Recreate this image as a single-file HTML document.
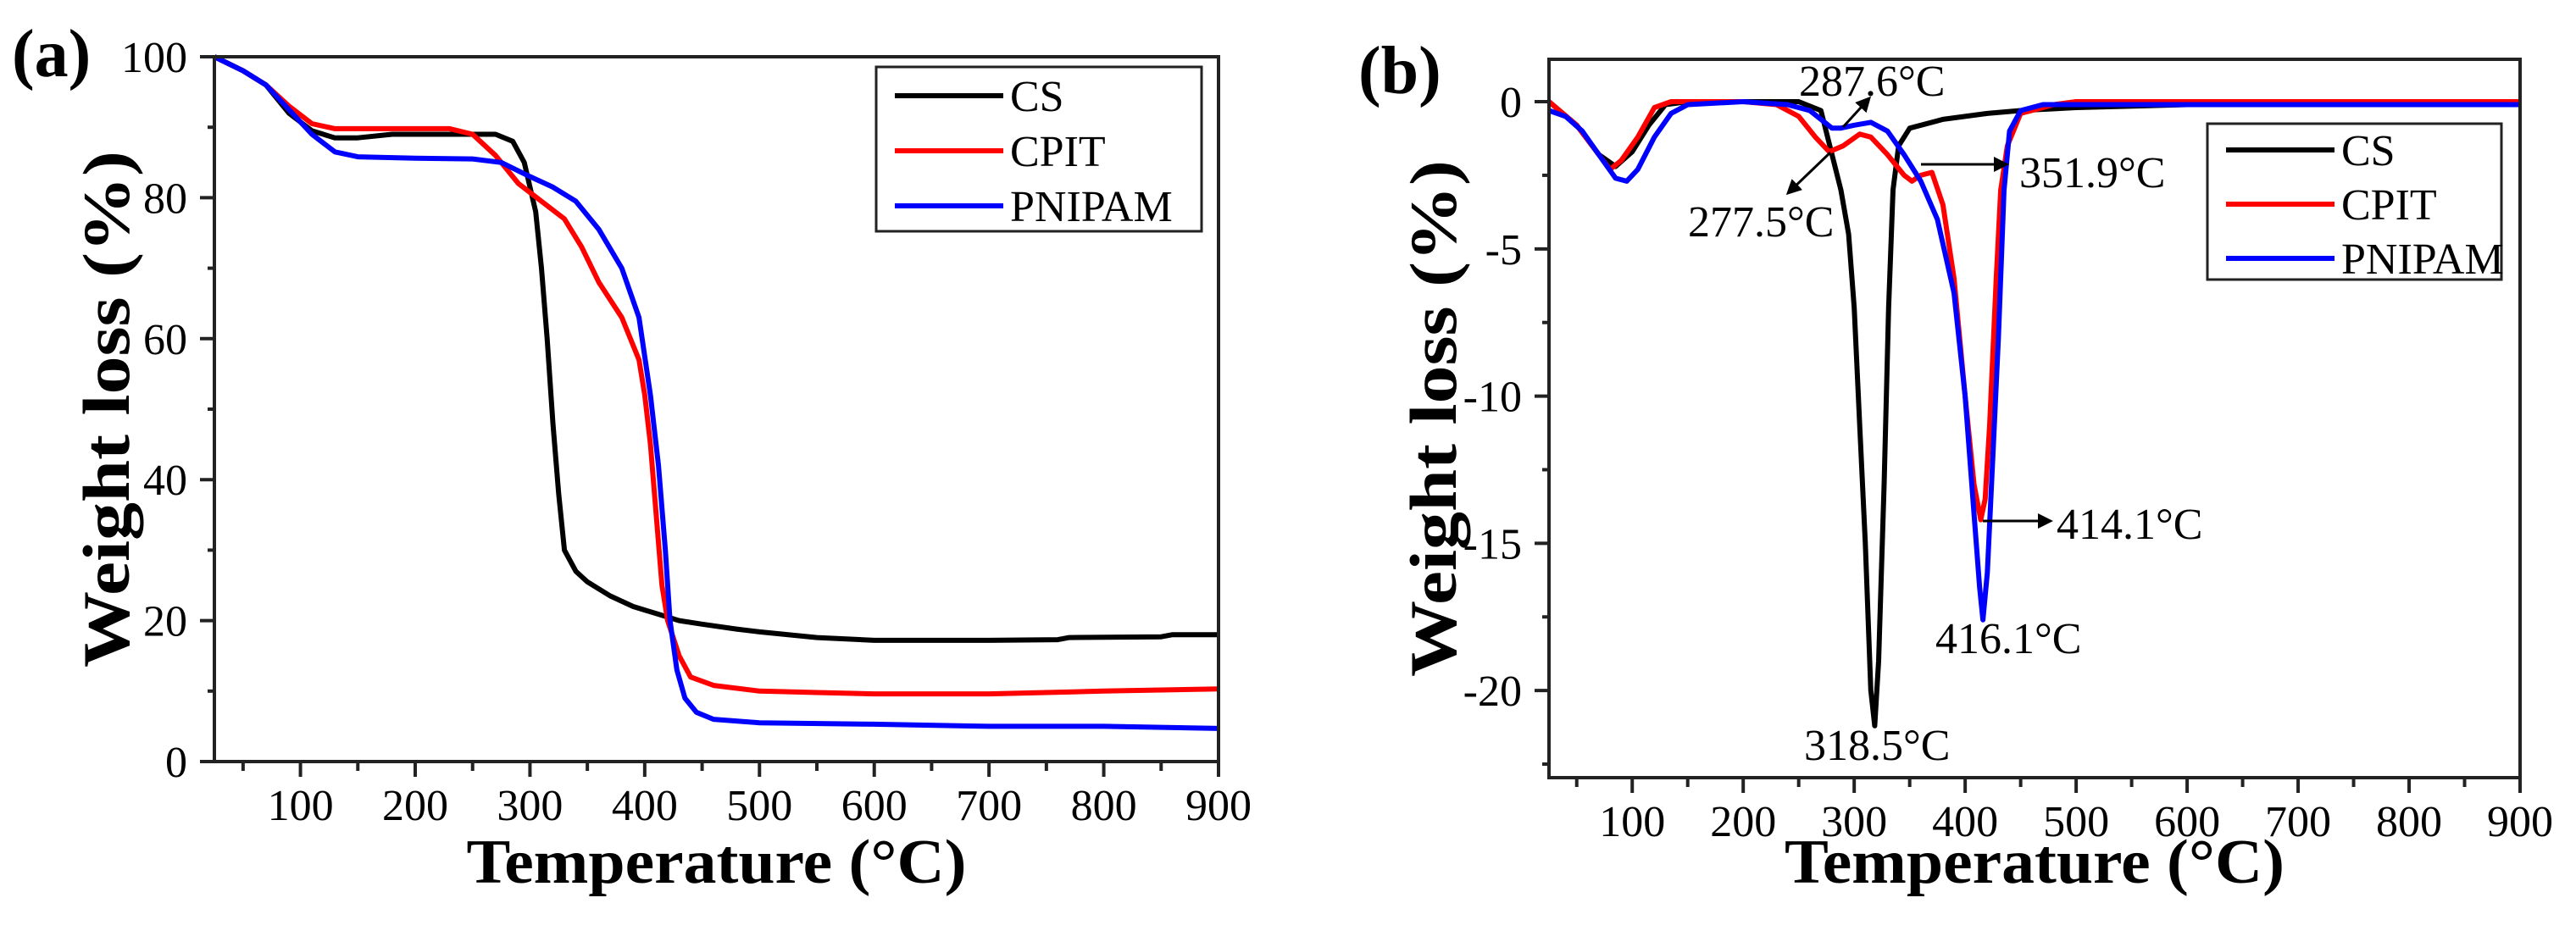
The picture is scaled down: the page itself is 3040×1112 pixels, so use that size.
<!DOCTYPE html>
<html><head><meta charset="utf-8">
<style>
html,body{margin:0;padding:0;background:#fff;}
svg{display:block;font-family:"Liberation Serif",serif;}
</style></head>
<body>
<svg id="fig" width="3040" height="1112" viewBox="0 0 3040 1112" xmlns="http://www.w3.org/2000/svg"></svg>
<script>
// ---------- Panel (a) TGA data ----------
const tgaCsT = [25,50,70,90,110,130,150,180,200,250,270,285,295,305,310,315,320,325,330,340,350,370,390,410,430,450,480,500,550,600,700,760,770,850,860,900];
const tgaCsV = [100,98,96,92,89.5,88.5,88.5,89,89,89,89,88,85,78,70,60,48,38,30,27,25.5,23.5,22,21,20,19.5,18.8,18.4,17.6,17.2,17.2,17.3,17.6,17.7,18,18];
const tgaCpitT = [25,50,70,90,110,130,200,230,250,270,290,310,330,345,360,380,395,400,405,410,415,420,430,440,460,500,550,600,700,800,900];
const tgaCpitV = [100,98,96,93,90.5,89.8,89.8,89.8,89,86,82,79.5,77,73,68,63,57,52,45,35,25,20,15,12,10.8,10,9.8,9.6,9.6,10,10.3];
const tgaPnT = [25,50,70,90,110,130,150,200,250,275,300,320,340,360,380,395,405,412,418,422,428,435,445,460,500,600,700,800,900];
const tgaPnV = [100,98,96,92.5,89,86.5,85.8,85.6,85.5,85,83,81.5,79.5,75.5,70,63,52,42,30,20,13,9,7,6,5.5,5.3,5,5,4.7];
const tgaYTicks = [0,20,40,60,80,100];
const xTicks = [100,200,300,400,500,600,700,800,900];

// ---------- Panel (b) DTG data ----------
const dtgCsT = [25,50,70,85,100,115,130,150,200,250,270,278,288,295,300,305,310,315,318.5,322,327,331,335,340,350,380,420,450,500,600,900];
const dtgCsV = [0,-0.8,-1.8,-2.2,-1.7,-0.8,-0.1,0,0,0,-0.3,-1.5,-3,-4.5,-7,-11,-15,-20,-21.2,-19,-13,-7,-3,-1.5,-0.9,-0.6,-0.4,-0.3,-0.2,-0.1,-0.1];
const dtgCpitT = [25,50,70,80,90,105,120,135,200,230,250,265,277.5,290,305,315,330,345,352,360,370,380,390,400,408,414,418,422,428,432,438,450,480,500,900];
const dtgCpitV = [0,-0.8,-1.8,-2.3,-2,-1.2,-0.2,0,0,-0.1,-0.5,-1.2,-1.7,-1.5,-1.1,-1.2,-1.8,-2.5,-2.7,-2.5,-2.4,-3.5,-6,-10,-13,-14.2,-13.5,-11,-6,-3,-1.5,-0.4,-0.1,0,0];
const dtgPnT = [25,40,55,70,85,95,105,120,135,150,200,240,260,280,287.6,300,315,330,345,360,375,390,400,408,413,416,420,425,430,435,440,450,470,900];
const dtgPnV = [-0.3,-0.5,-1,-1.8,-2.6,-2.7,-2.3,-1.2,-0.4,-0.1,0,-0.1,-0.3,-0.9,-0.9,-0.8,-0.7,-1,-1.8,-2.7,-4,-6.5,-10,-14,-16.5,-17.6,-16,-12,-8,-3,-1,-0.3,-0.1,-0.1];
const dtgYTicks = [0,-5,-10,-15,-20];
const dtgLabels = ["287.6°C","277.5°C","351.9°C","414.1°C","416.1°C","318.5°C"];

const NS = "http://www.w3.org/2000/svg";
const svg = document.getElementById('fig');
function el(tag, attrs, parent){
  const e = document.createElementNS(NS, tag);
  for (const k in attrs) e.setAttribute(k, attrs[k]);
  (parent||svg).appendChild(e);
  return e;
}
function txt(s, x, y, size, opts, parent){
  const t = el('text', Object.assign({x:x, y:y, 'font-size':size, fill:'#000'}, opts||{}), parent);
  t.textContent = s;
  return t;
}

function makePanel(cfg){
  const g = el('g', {});
  
  
  const sx = v => cfg.x0 + (v - cfg.xmin) / (cfg.xmax - cfg.xmin) * (cfg.x1 - cfg.x0);
  const sy = v => cfg.y1 - (v - cfg.ymin) / (cfg.ymax - cfg.ymin) * (cfg.y1 - cfg.y0);
  cfg.series.forEach(s => {
    const d = s.t.map((t,i) => (i?'L':'M') + sx(t).toFixed(1) + ' ' + sy(s.v[i]).toFixed(1)).join(' ');
    const p = el('path', {d:d, fill:'none', stroke:s.color, 'stroke-width':6, 'stroke-linejoin':'round'}, g);
    
    
  });
  const fr = el('rect', {x:cfg.x0, y:cfg.y0, width:cfg.x1-cfg.x0, height:cfg.y1-cfg.y0, fill:'none', stroke:'#222', 'stroke-width':4}, g);
  
  
  for (let v = 50; v <= 900; v += 50){
    const major = v % 100 === 0;
    el('line', {x1:sx(v), x2:sx(v), y1:cfg.y1, y2:cfg.y1 + (major?18:11), stroke:'#222', 'stroke-width':4}, g);
  }
  xTicks.forEach(v => {
    const t = txt(String(v), sx(v), cfg.y1 + 69, 52, {'text-anchor':'middle'}, g);
    
    
  });
  const start = Math.ceil(cfg.ymin / cfg.minor) * cfg.minor;
  for (let v = start; v <= cfg.ymax + 1e-9; v += cfg.minor){
    const major = cfg.yTicks.some(m => Math.abs(m - v) < 1e-6);
    el('line', {x1:cfg.x0 - (major?17:8), x2:cfg.x0, y1:sy(v), y2:sy(v), stroke:'#222', 'stroke-width':4}, g);
  }
  cfg.yTicks.forEach(v => {
    const t = txt(String(v), cfg.x0 - 32, sy(v) + 18, 52, {'text-anchor':'end'}, g);
    
    
  });
  const xt = txt('Temperature (°C)', (cfg.x0+cfg.x1)/2, 1042, 74, {'text-anchor':'middle','font-weight':'bold', textLength:590, lengthAdjust:'spacingAndGlyphs'}, g);
  
  
  const ycx = cfg.ytitleX, ycy = (cfg.y0+cfg.y1)/2;
  const yt = txt('Weight loss (%)', ycx, ycy, 78, {'text-anchor':'middle','font-weight':'bold', textLength:610, lengthAdjust:'spacingAndGlyphs', transform:'rotate(-90 '+ycx+' '+ycy+')'}, g);
  
  
  const pl = txt(cfg.label, cfg.labelX, cfg.labelY, 80, {'font-weight':'bold'}, g);
  
  
  const L = cfg.legend;
  const lg = el('g', {}, g);
  
  
  el('rect', {x:L.x, y:L.y, width:L.w, height:L.h, fill:'#fff', stroke:'#222', 'stroke-width':3}, lg);
  cfg.series.forEach((s,i) => {
    const yy = L.y + L.first + i * L.step;
    const ln = el('line', {x1:L.x+22, x2:L.x+150, y1:yy, y2:yy, stroke:s.color, 'stroke-width':6}, lg);
    
    
    const t = txt(s.label, L.x+158, yy + 18, 52, {}, lg);
    
    
  });
  return {g, sx, sy};
}

makePanel({
  name:'panel-a-tga', label:'(a)', labelX:14, labelY:90,
  x0:253, x1:1438, y0:67, y1:899, xmin:25, xmax:900, ymin:0, ymax:100,
  yTicks:tgaYTicks, minor:10, ytitleX:152,
  legend:{x:1034, y:79, w:384, h:194, first:34, step:65},
  series:[
    {name:'series-cs', label:'CS', color:'#000', t:tgaCsT, v:tgaCsV},
    {name:'series-cpit', label:'CPIT', color:'#ff0000', t:tgaCpitT, v:tgaCpitV},
    {name:'series-pnipam', label:'PNIPAM', color:'#0000ff', t:tgaPnT, v:tgaPnV}
  ]
});

makePanel({
  name:'panel-b-dtg', label:'(b)', labelX:1603, labelY:110,
  x0:1828, x1:2974, y0:70, y1:918, xmin:25, xmax:900, ymin:-22.96, ymax:1.44,
  yTicks:dtgYTicks, minor:2.5, ytitleX:1718,
  legend:{x:2605, y:146, w:347, h:184, first:31, step:64},
  series:[
    {name:'series-cs', label:'CS', color:'#000', t:dtgCsT, v:dtgCsV},
    {name:'series-cpit', label:'CPIT', color:'#ff0000', t:dtgCpitT, v:dtgCpitV},
    {name:'series-pnipam', label:'PNIPAM', color:'#0000ff', t:dtgPnT, v:dtgPnV}
  ]
});

const defs = el('defs', {});
const mk = el('marker', {id:'arr', markerWidth:6, markerHeight:6, refX:5, refY:3, orient:'auto', markerUnits:'strokeWidth'}, defs);
el('path', {d:'M0,0 L6,3 L0,6 Z', fill:'#000'}, mk);
const annPos = [[2123,113],[1992,279],[2383,221],[2427,636],[2284,771],[2129,897]];
dtgLabels.forEach((s,i) => {
  const t = txt(s, annPos[i][0], annPos[i][1], 52, {});
  
  
});
const arrows = [[2175,150,2206,116],[2160,180,2110,228],[2267,194,2368,194],[2340,615,2420,615]];
arrows.forEach(a => {
  const l = el('line', {x1:a[0], y1:a[1], x2:a[2], y2:a[3], stroke:'#000', 'stroke-width':3, 'marker-end':'url(#arr)'});
  
  
});
</script>
</body></html>
